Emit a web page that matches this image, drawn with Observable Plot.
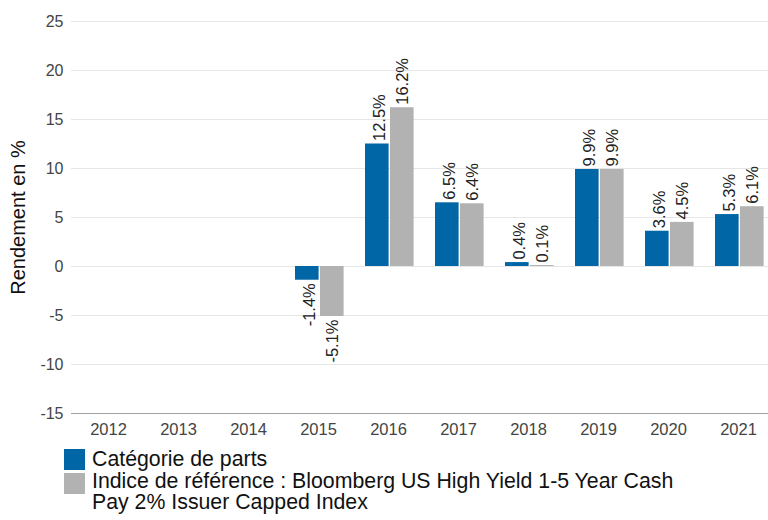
<!DOCTYPE html>
<html>
<head>
<meta charset="utf-8">
<script src="https://cdn.jsdelivr.net/npm/d3@7"></script>
<script src="https://cdn.jsdelivr.net/npm/@observablehq/plot@0.6"></script>
<style>
  html, body { margin: 0; padding: 0; overflow: hidden; background: #fff; }
  body { width: 768px; height: 520px; font-family: "Liberation Sans", Arial, sans-serif; position: relative; }
  #chart { width: 776px; }
  #chart svg { display: block; max-width: none !important; width: 776px !important; height: 440px !important; }
  #legend { position: absolute; left: 64px; top: 449px; font-size: 21.3px; line-height: 21px; color: #111; }
  .item { display: flex; align-items: flex-start; }
  .item + .item { margin-top: 1px; }
  .sw { width: 21px; height: 21px; flex: none; margin-right: 7px; }
  .item + .item .sw { margin-top: 2px; }
  .lbl { max-width: 610px; }
</style>
</head>
<body>
<div id="chart"></div>
<div id="legend"></div>
<script>
const years = ["2012", "2013", "2014", "2015", "2016", "2017", "2018", "2019", "2020", "2021"];
const fundValues = [null, null, null, -1.4, 12.5, 6.5, 0.4, 9.9, 3.6, 5.3];
const indexValues = [null, null, null, -5.1, 16.2, 6.4, 0.1, 9.9, 4.5, 6.1];
const seriesNames = ["Catégorie de parts", "Indice de référence : Bloomberg US High Yield 1-5 Year Cash Pay 2% Issuer Capped Index"];
const seriesColors = ["#0066a6", "#b2b2b2"];
const yTicks = [-15, -10, -5, 0, 5, 10, 15, 20, 25];
const yLabel = "Rendement en %";

const fund = years.map((year, i) => ({year, value: fundValues[i]})).filter(d => d.value != null);
const index = years.map((year, i) => ({year, value: indexValues[i]})).filter(d => d.value != null);

const fmt = v => v.toFixed(1) + "%";

function labels(data, dx) {
  return [
    Plot.text(data.filter(d => d.value >= 0), {x: "year", y: "value", text: d => fmt(d.value), rotate: -90, textAnchor: "start", dx, dy: -3, fontSize: 16.5, fill: "#222"}),
    Plot.text(data.filter(d => d.value < 0), {x: "year", y: "value", text: d => fmt(d.value), rotate: -90, textAnchor: "end", dx, dy: 3, fontSize: 16.5, fill: "#222"})
  ];
}

const chart = Plot.plot({
  width: 776,
  height: 440,
  marginLeft: 71,
  marginRight: 1,
  marginTop: 21,
  marginBottom: 27,
  style: {fontFamily: "'Liberation Sans', Arial, sans-serif", background: "#fff"},
  x: {type: "band", domain: years, padding: 0, axis: null},
  y: {domain: [-15, 25], axis: null},
  marks: [
    Plot.ruleY(yTicks, {stroke: "#e6e6e6", strokeWidth: 1}),
    Plot.barY(fund, {x: "year", y: "value", fill: seriesColors[0], insetLeft: 12, insetRight: 34.4}),
    Plot.barY(index, {x: "year", y: "value", fill: seriesColors[1], insetLeft: 37, insetRight: 9.4}),
    Plot.ruleY([-15], {stroke: "#a0a0a0", strokeWidth: 1}),
    Plot.axisY({ticks: yTicks, tickSize: 0, tickPadding: 8, tickFormat: d => String(d), fontSize: 16, fill: "#444", stroke: "#a0a0a0", line: true, label: null}),
    Plot.axisX({tickSize: 0, tickPadding: 10, fontSize: 16.5, fill: "#444", label: null}),
    ...labels(fund, -9),
    ...labels(index, 14),
    Plot.text([yLabel], {frameAnchor: "left", textAnchor: "middle", rotate: -90, dx: -53, dy: 0, fontSize: 20, fill: "#111"})
  ]
});
document.getElementById("chart").appendChild(chart);

const legend = document.getElementById("legend");
seriesNames.forEach((name, i) => {
  const item = document.createElement("div");
  item.className = "item";
  const sw = document.createElement("div");
  sw.className = "sw";
  sw.style.background = seriesColors[i];
  const lbl = document.createElement("div");
  lbl.className = "lbl";
  lbl.textContent = name;
  item.appendChild(sw);
  item.appendChild(lbl);
  legend.appendChild(item);
});
</script>
</body>
</html>
